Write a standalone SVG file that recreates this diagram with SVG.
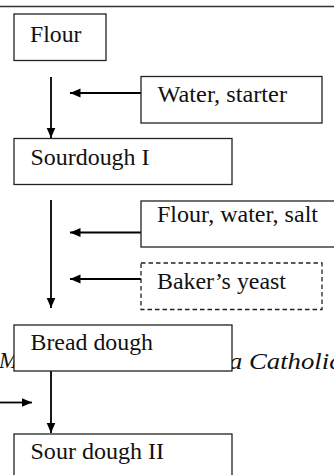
<svg xmlns="http://www.w3.org/2000/svg" width="334" height="475" viewBox="0 0 334 475">
<defs>
<marker id="ah" markerUnits="userSpaceOnUse" markerWidth="12" markerHeight="10" refX="10.5" refY="4.5" orient="auto">
<path d="M0,0 L10.5,4.5 L0,9 Z" fill="#000"/>
</marker>
<style>
.box{fill:#fff;stroke:#222;stroke-width:1.3}
.dash{fill:#fff;stroke:#222;stroke-width:1.3;stroke-dasharray:4.5 3}
.lbl{font-family:"Liberation Serif","Times New Roman",serif;font-size:22.5px;fill:#111}
.cap{font-family:"Liberation Serif","Times New Roman",serif;font-size:23px;font-style:italic;fill:#111}
.ln{stroke:#000;stroke-width:1.8;fill:none}
</style>
</defs>
<rect width="334" height="475" fill="#fff"/>
<line x1="0" y1="6.5" x2="334" y2="6.5" stroke="#333" stroke-width="1.6"/>
<text class="cap" x="-1" y="368">Ma</text>
<text class="cap" x="229" y="369" textLength="112" lengthAdjust="spacingAndGlyphs">a Catholic</text>
<g id="connectors">
<line class="ln" x1="51" y1="77" x2="51" y2="138" marker-end="url(#ah)"/>
<line class="ln" x1="51" y1="200" x2="51" y2="308" marker-end="url(#ah)"/>
<line class="ln" x1="51" y1="371" x2="51" y2="433" marker-end="url(#ah)"/>
<line class="ln" x1="141" y1="93" x2="70" y2="93" marker-end="url(#ah)"/>
<line class="ln" x1="141" y1="232.5" x2="70" y2="232.5" marker-end="url(#ah)"/>
<line class="ln" x1="141" y1="279" x2="70" y2="279" marker-end="url(#ah)"/>
<line class="ln" x1="0" y1="402.5" x2="32" y2="402.5" marker-end="url(#ah)"/>
</g>
<g id="flour">
<rect class="box" x="14" y="14" width="92" height="46.5"/>
<text class="lbl" x="30" y="41.5" textLength="51.5" lengthAdjust="spacingAndGlyphs">Flour</text>
</g>
<g id="water-starter">
<rect class="box" x="141" y="76.5" width="181" height="46.5"/>
<text class="lbl" x="157.5" y="102" textLength="129.5" lengthAdjust="spacingAndGlyphs">Water, starter</text>
</g>
<g id="sourdough-1">
<rect class="box" x="14" y="138.5" width="218" height="46"/>
<text class="lbl" x="30.5" y="164.5" textLength="119" lengthAdjust="spacingAndGlyphs">Sourdough I</text>
</g>
<g id="flour-water-salt">
<rect class="box" x="141" y="201" width="200" height="46"/>
<text class="lbl" x="157" y="221.5" textLength="161" lengthAdjust="spacingAndGlyphs">Flour, water, salt</text>
</g>
<g id="bakers-yeast">
<rect class="dash" x="141" y="263" width="181" height="46.5"/>
<text class="lbl" x="157" y="289" textLength="129" lengthAdjust="spacingAndGlyphs">Baker’s yeast</text>
</g>
<g id="bread-dough">
<rect class="box" x="14" y="325" width="218" height="46"/>
<text class="lbl" x="30.5" y="350" textLength="122.5" lengthAdjust="spacingAndGlyphs">Bread dough</text>
</g>
<g id="sour-dough-2">
<rect class="box" x="14" y="434" width="218" height="50"/>
<text class="lbl" x="30.5" y="458.5" textLength="133.5" lengthAdjust="spacingAndGlyphs">Sour dough II</text>
</g>
</svg>
